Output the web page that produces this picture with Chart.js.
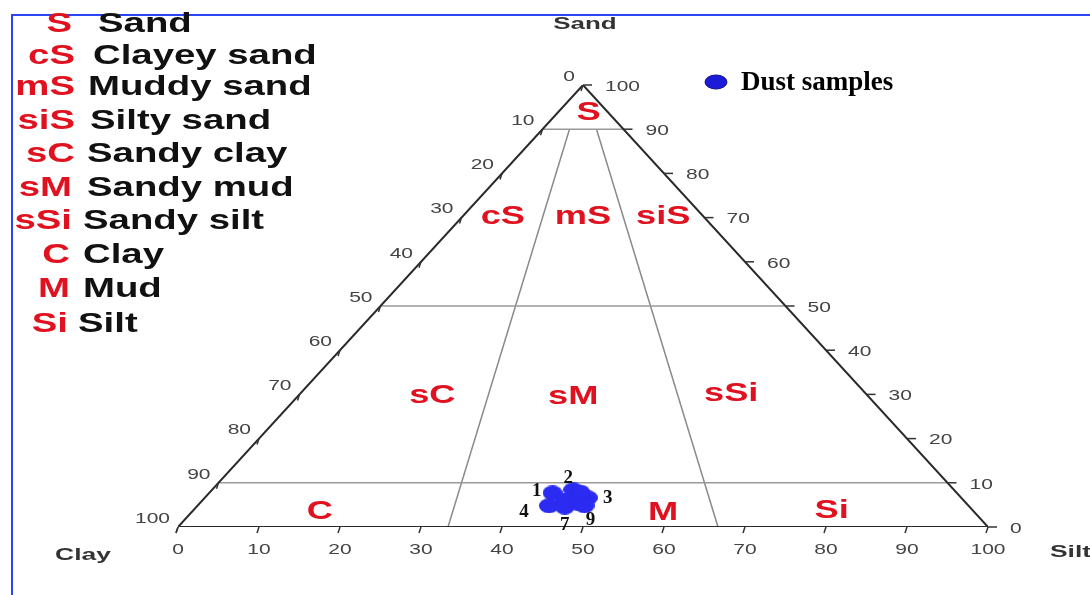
<!DOCTYPE html>
<html>
<head>
<meta charset="utf-8">
<script src="https://cdn.jsdelivr.net/npm/chart.js@4"></script>
<style>
  html, body { margin: 0; padding: 0; background: #fff; }
  #wrap { position: relative; width: 1090px; height: 595px; overflow: hidden; }
  #frame { position: absolute; left: 11px; top: 14px; width: 1200px; height: 700px;
           border-left: 2px solid #2a45f5; border-top: 2px solid #2a45f5; }
  canvas { position: absolute; left: 0; top: 0; }
</style>
</head>
<body>
<div id="wrap">
  <div id="frame"></div>
  <canvas id="ternary" width="1090" height="595"></canvas>
</div>
<script>
// dust samples (percent sand / silt / clay)
const sampleIds = ['1', '2', '3', '4', '5', '6', '7', '8', '9'];
const sandPct = [7.7, 8.4, 6.6, 4.8, 7.9, 6.1, 4.5, 5.4, 4.8];
const siltPct = [42.4, 44.6, 47.3, 43.4, 45.7, 44.7, 45.5, 46.7, 47.8];
const clayPct = [49.9, 47.0, 46.1, 51.8, 46.4, 49.2, 50.0, 47.9, 47.4];

const axisTicks = [0, 10, 20, 30, 40, 50, 60, 70, 80, 90, 100];

// Folk classification
const classCodes = ['S', 'cS', 'mS', 'siS', 'sC', 'sM', 'sSi', 'C', 'M', 'Si'];
const classNames = ['Sand', 'Clayey sand', 'Muddy sand', 'Silty sand', 'Sandy clay',
                    'Sandy mud', 'Sandy silt', 'Clay', 'Mud', 'Silt'];
const sandLevels = [90, 50, 10];
const siltRatios = [1 / 3, 2 / 3];

// ternary -> cartesian (clay corner 0,0 / silt corner 100,0 / sand apex 50,100)
function toXY(sand, silt) {
  return { x: silt + sand / 2, y: sand };
}

const samplePoints = sampleIds.map((id, i) => toXY(sandPct[i], siltPct[i]));

function line(points, color, width, order) {
  return {
    data: points, showLine: true, borderColor: color, borderWidth: width,
    pointRadius: 0, fill: false, order: order
  };
}

function ellipse(w, h, color) {
  const c = document.createElement('canvas');
  c.width = w; c.height = h;
  const g = c.getContext('2d');
  g.fillStyle = color;
  g.beginPath();
  g.ellipse(w / 2, h / 2, w / 2, h / 2, 0, 0, Math.PI * 2);
  g.fill();
  return c;
}

const datasets = [];
datasets.push({
  label: 'Dust samples', data: samplePoints, order: 0,
  pointStyle: ellipse(20, 15, '#2b2bf2'), pointRadius: 8,
  backgroundColor: '#2b2bf2', borderColor: '#2b2bf2'
});
sandLevels.forEach(s => {
  datasets.push(line([toXY(s, 0), toXY(s, 100 - s)], '#9a9a9a', 1.5, 3));
});
siltRatios.forEach(r => {
  datasets.push(line([toXY(0, 100 * r), toXY(90, 10 * r)], '#8a8a8a', 1.5, 3));
});
datasets.push(line([toXY(0, 0), toXY(0, 100), toXY(100, 0), toXY(0, 0)], '#2a2a2a', 2, 2));

function txt(ctx, s, x, y, font, color, align, sx) {
  ctx.save();
  ctx.translate(x, y);
  ctx.scale(sx, 1);
  ctx.font = font;
  ctx.fillStyle = color;
  ctx.textAlign = align;
  ctx.textBaseline = 'middle';
  ctx.fillText(s, 0, 0);
  ctx.restore();
}

const RED = '#e0121f';

const ternaryText = {
  id: 'ternaryText',
  afterDatasetsDraw(chart) {
    const ctx = chart.ctx;
    const xs = chart.scales.x, ys = chart.scales.y;
    const px = p => ({ x: xs.getPixelForValue(p.x), y: ys.getPixelForValue(p.y) });
    const axisFont = '14px "Liberation Sans", Arial, sans-serif';

    ctx.save();
    ctx.strokeStyle = '#333';
    ctx.lineWidth = 1.5;
    axisTicks.forEach(v => {
      // bottom axis (silt)
      const b = px(toXY(0, v));
      ctx.beginPath(); ctx.moveTo(b.x, b.y); ctx.lineTo(b.x - 2, b.y + 6); ctx.stroke();
      txt(ctx, String(v), b.x, b.y + 23, axisFont, '#444', 'center', 1.5);
      // left axis (clay), 0 at apex
      const l = px(toXY(100 - v, 0));
      ctx.beginPath(); ctx.moveTo(l.x, l.y); ctx.lineTo(l.x - 2, l.y + 6); ctx.stroke();
      txt(ctx, String(v), l.x - 8, l.y - 8, axisFont, '#444', 'right', 1.5);
      // right axis (sand)
      const r = px(toXY(v, 100 - v));
      ctx.beginPath(); ctx.moveTo(r.x, r.y); ctx.lineTo(r.x + 9, r.y); ctx.stroke();
      txt(ctx, String(v), r.x + 22, r.y + 2, axisFont, '#444', 'left', 1.5);
    });
    ctx.restore();

    const titleFont = 'bold 16px "Liberation Sans", Arial, sans-serif';
    const apex = px(toXY(100, 0));
    txt(ctx, 'Sand', apex.x + 2, 25, titleFont, '#333', 'center', 1.62);
    txt(ctx, 'Clay', 83, 556, titleFont, '#333', 'center', 1.65);
    txt(ctx, 'Silt', 1050, 553, titleFont, '#333', 'left', 1.65);

    // class codes inside the triangle
    const regionFont = 'bold 25px "Liberation Sans", Arial, sans-serif';
    const regionPos = [[50.7, 93.7], [40.1, 70.1], [50.0, 70.1], [59.9, 70.1], [31.4, 29.6],
                       [48.8, 29.4], [68.3, 30.1], [17.5, 3.4], [59.9, 3.2], [80.7, 3.6]];
    classCodes.forEach((c, i) => {
      const p = px({ x: regionPos[i][0], y: regionPos[i][1] });
      txt(ctx, c, p.x, p.y, regionFont, RED, 'center', 1.45);
    });

    // sample numbers
    const numFont = 'bold 19px "Liberation Serif", "Times New Roman", serif';
    const numOff = [[-16, -2], [-5, -12], [20, 0], [-25, 6], null, null, [0, 18], null, [6, 14]];
    samplePoints.forEach((pt, i) => {
      if (!numOff[i]) return;
      const p = px(pt);
      txt(ctx, sampleIds[i], p.x + numOff[i][0], p.y + numOff[i][1], numFont, '#111', 'center', 1.0);
    });

    // legend for the samples
    ctx.save();
    ctx.fillStyle = '#1b1bd8';
    ctx.strokeStyle = '#10108a';
    ctx.lineWidth = 1;
    ctx.beginPath();
    ctx.ellipse(716, 82, 11, 7, 0, 0, Math.PI * 2);
    ctx.fill(); ctx.stroke();
    ctx.restore();
    txt(ctx, chart.data.datasets[0].label, 741, 83, 'bold 27px "Liberation Serif", "Times New Roman", serif', '#000', 'left', 1.0);

    // class key at top left
    const keyFont = 'bold 27px "Liberation Sans", Arial, sans-serif';
    const rowY = [25, 57, 88, 122, 155, 189, 222, 256, 290, 325];
    const codeR = [72, 75, 75, 75, 75, 72, 72, 70, 70, 68];
    const nameL = [98, 93, 88, 90, 87, 87, 83, 83, 83, 78];
    classCodes.forEach((c, i) => {
      txt(ctx, c, codeR[i], rowY[i], keyFont, RED, 'right', 1.42);
      txt(ctx, classNames[i], nameL[i], rowY[i], keyFont, '#111', 'left', 1.42);
    });
  }
};

new Chart(document.getElementById('ternary'), {
  type: 'scatter',
  data: { datasets: datasets },
  options: {
    responsive: false,
    animation: false,
    devicePixelRatio: 1,
    layout: { padding: { left: 178, right: 102, top: 85, bottom: 68 } },
    scales: {
      x: { type: 'linear', min: 0, max: 100, display: false },
      y: { type: 'linear', min: 0, max: 100, display: false }
    },
    plugins: { legend: { display: false }, tooltip: { enabled: false } }
  },
  plugins: [ternaryText]
});
</script>
</body>
</html>
